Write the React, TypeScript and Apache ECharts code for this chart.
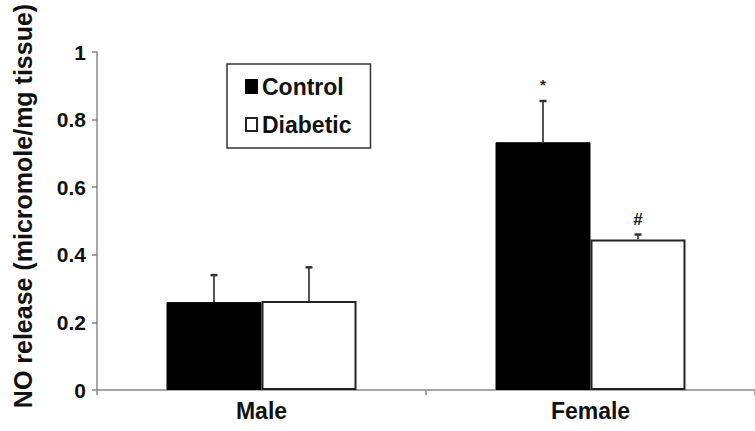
import React, { useEffect, useRef } from "react";
import * as echarts from "echarts";

const categories = ["Male", "Female"];
const seriesNames = ["Control", "Diabetic"];
const controlMeans = [0.26, 0.733];
const diabeticMeans = [0.263, 0.445];
const controlErrors = [0.08, 0.122];
const diabeticErrors = [0.1, 0.015];
const controlMarks = ["", "*"];
const diabeticMarks = ["", "#"];
const yTicks = [0, 0.2, 0.4, 0.6, 0.8, 1];
const yAxisTitle = "NO release (micromole/mg tissue)";

const BAR_W = 95;
const FONT = "'Liberation Sans', Arial, Helvetica, sans-serif";

export default function App() {
  const ref = useRef<HTMLDivElement>(null);

  useEffect(() => {
    if (!ref.current) return;
    const chart = echarts.init(ref.current, undefined, { renderer: "svg" });

    const errRows: any[] = [];
    categories.forEach((_, i) => {
      errRows.push([i, controlMeans[i], controlErrors[i], 0, controlMarks[i]]);
      errRows.push([i, diabeticMeans[i], diabeticErrors[i], 1, diabeticMarks[i]]);
    });

    const option: any = {
      animation: false,
      backgroundColor: "#fff",
      grid: { left: 97, top: 52, width: 669, height: 338 },
      legend: {
        data: seriesNames,
        orient: "vertical",
        left: 227,
        top: 64,
        itemWidth: 11,
        itemHeight: 13,
        itemGap: 15,
        padding: [11, 19, 12, 18],
        borderColor: "#333",
        borderWidth: 1.5,
        icon: "rect",
        selectedMode: false,
        textStyle: { fontFamily: FONT, fontWeight: "bold", fontSize: 23, color: "#111" },
      },
      graphic: [
        {
          type: "text",
          x: 23,
          y: 206,
          rotation: Math.PI / 2,
          style: {
            text: yAxisTitle,
            font: `bold 25px ${FONT}`,
            fill: "#111",
            textAlign: "center",
            textVerticalAlign: "middle",
          },
        },
      ],
      xAxis: {
        type: "category",
        data: categories,
        axisLine: { lineStyle: { color: "#888", width: 1.5 } },
        axisTick: { show: true, length: 5, lineStyle: { color: "#888", width: 1.5 } },
        axisLabel: { fontFamily: FONT, fontWeight: "bold", fontSize: 23, color: "#111", margin: 9 },
      },
      yAxis: {
        type: "value",
        min: yTicks[0],
        max: yTicks[yTicks.length - 1],
        interval: 0.2,
        axisLine: { show: true, lineStyle: { color: "#888", width: 1.5 } },
        axisTick: { show: true, length: 5, lineStyle: { color: "#888", width: 1.5 } },
        splitLine: { show: false },
        axisLabel: { fontFamily: FONT, fontWeight: "bold", fontSize: 21, color: "#111", margin: 11 },
      },
      series: [
        {
          name: seriesNames[0],
          type: "bar",
          data: controlMeans,
          barWidth: BAR_W,
          barGap: "0%",
          itemStyle: { color: "#000", borderColor: "#000", borderWidth: 1 },
        },
        {
          name: seriesNames[1],
          type: "bar",
          data: diabeticMeans,
          barWidth: BAR_W,
          barGap: "0%",
          itemStyle: { color: "#fff", borderColor: "#222", borderWidth: 2 },
        },
        {
          name: "errors",
          type: "custom",
          z: 10,
          encode: { x: 0, y: 1 },
          data: errRows,
          renderItem: (params: any, api: any) => {
            const idx = api.value(0);
            const mean = api.value(1);
            const err = api.value(2);
            const s = api.value(3);
            const mark = errRows[params.dataIndex][4];
            const base = api.coord([idx, mean]);
            const top = api.coord([idx, mean + err]);
            const x = base[0] + (s === 0 ? -BAR_W / 2 : BAR_W / 2);
            const children: any[] = [
              {
                type: "line",
                shape: { x1: x, y1: base[1], x2: x, y2: top[1] },
                style: { stroke: "#555", lineWidth: 2 },
              },
              {
                type: "line",
                shape: { x1: x - 3.5, y1: top[1], x2: x + 3.5, y2: top[1] },
                style: { stroke: "#333", lineWidth: 2.5 },
              },
            ];
            if (mark) {
              children.push({
                type: "text",
                x: x,
                y: top[1] - (mark === "*" ? 9 : 7),
                style: {
                  text: mark,
                  font: `bold ${mark === "*" ? 15 : 17}px ${FONT}`,
                  fill: "#222",
                  textAlign: "center",
                  textVerticalAlign: "bottom",
                },
              });
            }
            return { type: "group", children };
          },
        },
      ],
    };

    chart.setOption(option);
    return () => chart.dispose();
  }, []);

  return (
    <div
      ref={ref}
      style={{ position: "fixed", left: 0, top: 0, width: 755, height: 431, background: "#fff" }}
    />
  );
}
